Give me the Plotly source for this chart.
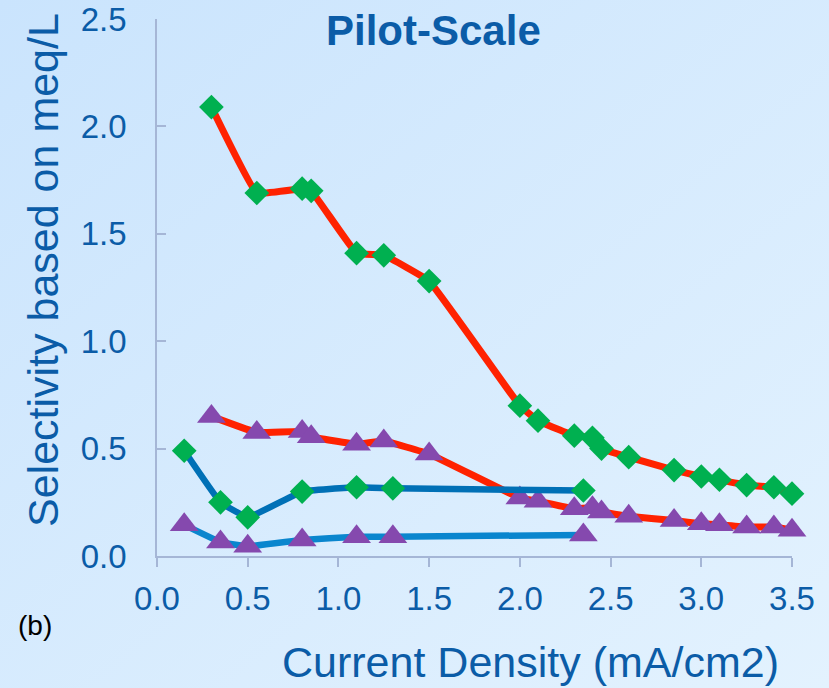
import base64
import plotly.graph_objects as go

# ---- data ----
x_long = [0.3, 0.55, 0.8, 0.85, 1.1, 1.25, 1.5, 2.0, 2.1, 2.3, 2.4, 2.45, 2.6, 2.85, 3.0, 3.1, 3.25, 3.4, 3.5]
y_red_diamond = [2.09, 1.69, 1.71, 1.70, 1.41, 1.40, 1.28, 0.70, 0.63, 0.56, 0.55, 0.50, 0.46, 0.40, 0.37, 0.355, 0.33, 0.32, 0.29]
y_red_triangle = [0.65, 0.575, 0.58, 0.555, 0.52, 0.535, 0.475, 0.27, 0.255, 0.22, 0.225, 0.205, 0.185, 0.165, 0.15, 0.145, 0.135, 0.135, 0.12]

x_short = [0.15, 0.35, 0.5, 0.8, 1.1, 1.3, 2.35]
y_blue_diamond = [0.49, 0.25, 0.18, 0.30, 0.32, 0.315, 0.305]
y_blue_triangle = [0.145, 0.065, 0.045, 0.075, 0.09, 0.09, 0.098]

x_ticks = [0.0, 0.5, 1.0, 1.5, 2.0, 2.5, 3.0, 3.5]
y_ticks = [0.0, 0.5, 1.0, 1.5, 2.0, 2.5]

title_text = "Pilot-Scale"
x_title = "Current Density (mA/cm2)"
y_title = "Selectivity based on meq/L"
panel_label = "(b)"

# ---- style ----
FONT = "Liberation Sans, Arial, Helvetica, sans-serif"
TXT = "#0B5CA7"
RED = "#FF2200"
GREEN = "#00B050"
PURPLE = "#8549AE"
BLUE_D = "#0070B6"
BLUE_L = "#0A86CE"
AXIS = "#A5B6D6"

W, H = 829, 688
ML, MR, MT, MB = 157, 37, 19, 132
PW, PH = W - ML - MR, H - MT - MB

svg = (
    '<svg xmlns="http://www.w3.org/2000/svg" width="829" height="688" preserveAspectRatio="none">'
    '<defs><linearGradient id="g" x1="0" y1="0" x2="1" y2="1">'
    '<stop offset="0" stop-color="#CAE4FD"/><stop offset="1" stop-color="#E3F2FE"/>'
    '</linearGradient></defs><rect width="829" height="688" fill="url(#g)"/></svg>'
)
bg_src = "data:image/svg+xml;base64," + base64.b64encode(svg.encode()).decode()

fig = go.Figure()

def add(x, y, color, width, symbol, mcolor, msize):
    fig.add_trace(go.Scatter(
        x=x, y=y, mode="lines+markers",
        line=dict(color=color, width=width, shape="spline", smoothing=0.25),
        marker=dict(symbol=symbol, color=mcolor, size=msize, line=dict(width=0)),
        cliponaxis=False, showlegend=False,
    ))

add(x_long, y_red_diamond, RED, 7, "diamond", GREEN, 19)
add(x_long, y_red_triangle, RED, 7, "triangle-up", PURPLE, 25)
add(x_short, y_blue_diamond, BLUE_D, 6.5, "diamond", GREEN, 19)
add(x_short, y_blue_triangle, BLUE_L, 6.5, "triangle-up", PURPLE, 25)

def px_x(p):
    return (p - ML) / PW

def px_y(p):
    return (H - MB - p) / PH

fig.update_layout(
    width=W, height=H,
    margin=dict(l=ML, r=MR, t=MT, b=MB, autoexpand=False),
    paper_bgcolor="#D6EBFE",
    plot_bgcolor="rgba(0,0,0,0)",
    font=dict(family=FONT, color=TXT),
    images=[dict(source=bg_src, xref="paper", yref="paper",
                 x=px_x(0), y=px_y(0), sizex=W / PW, sizey=H / PH,
                 xanchor="left", yanchor="top", sizing="stretch", layer="below")],
    xaxis=dict(range=[0, 3.5], tickvals=x_ticks, tickformat=".1f",
               showline=True, linecolor=AXIS, linewidth=1.5,
               ticks="outside", ticklen=9, tickwidth=1.5, tickcolor=AXIS,
               showgrid=False, zeroline=False, automargin=False,
               tickfont=dict(size=33, color=TXT, family=FONT),
               ticklabelstandoff=4),
    yaxis=dict(range=[0, 2.5], tickvals=y_ticks, tickformat=".1f",
               showline=True, linecolor=AXIS, linewidth=1.5,
               ticks="inside", ticklen=9, tickwidth=1.5, tickcolor=AXIS,
               showgrid=False, zeroline=False, automargin=False,
               tickfont=dict(size=33, color=TXT, family=FONT),
               ticklabelstandoff=22),
    annotations=[
        dict(text="<b>" + title_text + "</b>", xref="paper", yref="paper",
             x=px_x(433), y=px_y(30), xanchor="center", yanchor="middle",
             showarrow=False, font=dict(size=42, color=TXT, family=FONT)),
        dict(text=x_title, xref="paper", yref="paper",
             x=px_x(530), y=px_y(662), xanchor="center", yanchor="middle",
             showarrow=False, font=dict(size=43, color=TXT, family=FONT)),
        dict(text=y_title, xref="paper", yref="paper", textangle=-90,
             x=px_x(43), y=px_y(270), xanchor="center", yanchor="middle",
             showarrow=False, font=dict(size=43, color=TXT, family=FONT)),
        dict(text=panel_label, xref="paper", yref="paper",
             x=px_x(35), y=px_y(625), xanchor="center", yanchor="middle",
             showarrow=False, font=dict(size=28, color="#000000", family=FONT)),
    ],
)

fig.write_html("out.html")
